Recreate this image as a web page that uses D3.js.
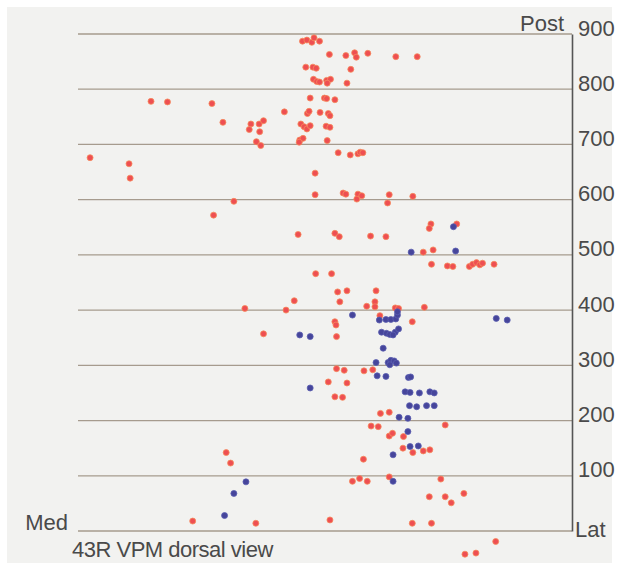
<!DOCTYPE html>
<html>
<head>
<meta charset="utf-8">
<script src="https://cdn.jsdelivr.net/npm/d3@7/dist/d3.min.js"></script>
<style>
  html, body { margin: 0; padding: 0; background: #ffffff; }
  svg { display: block; }
  text { font-family: "Liberation Sans", Arial, Helvetica, sans-serif; fill: #4a4a4a; }
</style>
</head>
<body>
<svg id="chart" width="618" height="565"></svg>
<script>
// Recording sites, VPM dorsal view (µm): [mediolateral, posterior]
const redSites = [
  [133,778],[163,777],[244,774],[376,759],[264,740],[315,737],[330,737],[338,743],[312,727],[331,723],
  [325,705],[333,698],[22,676],[93,665],[95,639],[284,597],[247,572],[304,403],[379,400],[338,357],
  [270,142],[278,123],[209,18],[324,14],
  [409,887],[417,889],[426,885],[430,893],[440,887],[458,863],[488,861],[504,866],[507,858],[528,865],
  [579,859],[618,859],[415,840],[428,840],[434,838],[497,836],[429,818],[435,814],[440,813],[453,816],
  [460,818],[454,811],[490,811],[423,784],[449,784],[453,783],[468,781],[418,756],[421,760],[441,758],
  [456,756],[459,752],[406,737],[412,732],[417,728],[423,734],[452,733],[459,731],[404,708],[410,711],
  [403,704],[454,707],[474,685],[496,681],[510,683],[514,686],[519,685],[432,648],[432,609],[483,612],
  [488,610],[510,610],[508,601],[517,607],[567,609],[564,594],[610,606],[401,537],[468,539],[476,533],
  [533,534],[561,533],[643,556],[640,548],[690,556],[629,505],[647,509],[644,483],[673,480],[683,479],
  [713,479],[719,483],[726,486],[732,482],[737,485],[758,483],[433,466],[462,466],[473,433],[490,435],
  [543,435],[394,417],[477,415],[541,415],[526,407],[541,406],[578,404],[584,403],[631,405],[550,390],
  [468,379],[470,373],[609,379],[471,352],[471,294],[485,291],[521,290],[537,292],[456,270],[490,268],
  [468,243],[482,242],[551,213],[567,215],[534,190],[547,189],[669,192],[567,172],[573,177],[593,171],
  [592,150],[610,142],[629,145],[641,147],[520,130],[500,90],[513,95],[527,90],[567,98],[661,94],
  [640,62],[669,62],[703,68],[680,51],[459,20],[609,14],[644,14],[761,-19],[705,-42],[725,-40]
];

const blueSites = [
  [306,89],[284,68],[267,28],[684,551],[607,505],[688,507],[500,391],[549,382],[561,383],[570,383],
  [579,384],[582,391],[582,397],[762,385],[782,382],[404,355],[423,352],[553,360],[562,358],[568,356],
  [578,360],[584,366],[574,355],[556,331],[543,305],[565,305],[570,309],[576,308],[580,304],[568,301],
  [545,281],[561,280],[602,278],[606,279],[423,259],[596,252],[605,251],[622,250],[641,252],[649,250],
  [604,227],[617,225],[635,227],[649,227],[585,206],[601,204],[601,180],[605,153],[620,154],[574,138],
  [574,90]
];

const gridValues = [0,100,200,300,400,500,600,700,800,900];
const tickValues = [100,200,300,400,500,600,700,800,900];
const caption = "43R VPM dorsal view";

const svg = d3.select("#chart");

// paper background
svg.append("rect")
  .attr("x", 7).attr("y", 7)
  .attr("width", 605).attr("height", 556)
  .attr("fill", "#f2f2f0");

const x = d3.scaleLinear().domain([0, 900]).range([78, 572]);
const y = d3.scaleLinear().domain([0, 900]).range([531, 34]);

// horizontal grid
svg.append("g")
  .selectAll("line")
  .data(gridValues)
  .join("line")
  .attr("x1", x(0)).attr("x2", x(900))
  .attr("y1", d => y(d)).attr("y2", d => y(d))
  .attr("stroke", "#a69b8e")
  .attr("stroke-width", 1.3);

// right-hand axis
const axis = svg.append("g")
  .attr("transform", `translate(${x(900)},0)`)
  .call(d3.axisRight(y).tickValues(tickValues).tickSize(0).tickSizeOuter(0).tickPadding(6));
axis.select(".domain").attr("stroke", "#555").attr("stroke-width", 1.6);
axis.selectAll(".tick text")
  .attr("font-size", 22)
  .attr("font-family", "Liberation Sans, Arial, sans-serif")
  .attr("fill", "#4a4a4a")
  .attr("dy", "0.05em");

// corner labels
svg.append("text").attr("x", 564).attr("y", 31).attr("text-anchor", "end")
  .attr("font-size", 22).text("Post");
svg.append("text").attr("x", 575).attr("y", 537)
  .attr("font-size", 22).text("Lat");
svg.append("text").attr("x", 68).attr("y", 530).attr("text-anchor", "end")
  .attr("font-size", 22).text("Med");
svg.append("text").attr("x", 72).attr("y", 557)
  .attr("font-size", 22).attr("letter-spacing", "-0.5px").text(caption);

// sites
svg.append("g")
  .selectAll("circle")
  .data(redSites)
  .join("circle")
  .attr("cx", d => x(d[0])).attr("cy", d => y(d[1]))
  .attr("r", 3)
  .attr("fill", "#ee4f52")
  .attr("stroke", "#f68a5c")
  .attr("stroke-width", 0.8);

svg.append("g")
  .selectAll("circle")
  .data(blueSites)
  .join("circle")
  .attr("cx", d => x(d[0])).attr("cy", d => y(d[1]))
  .attr("r", 3)
  .attr("fill", "#46459b")
  .attr("stroke", "#5a5eb0")
  .attr("stroke-width", 0.8);
</script>
</body>
</html>
